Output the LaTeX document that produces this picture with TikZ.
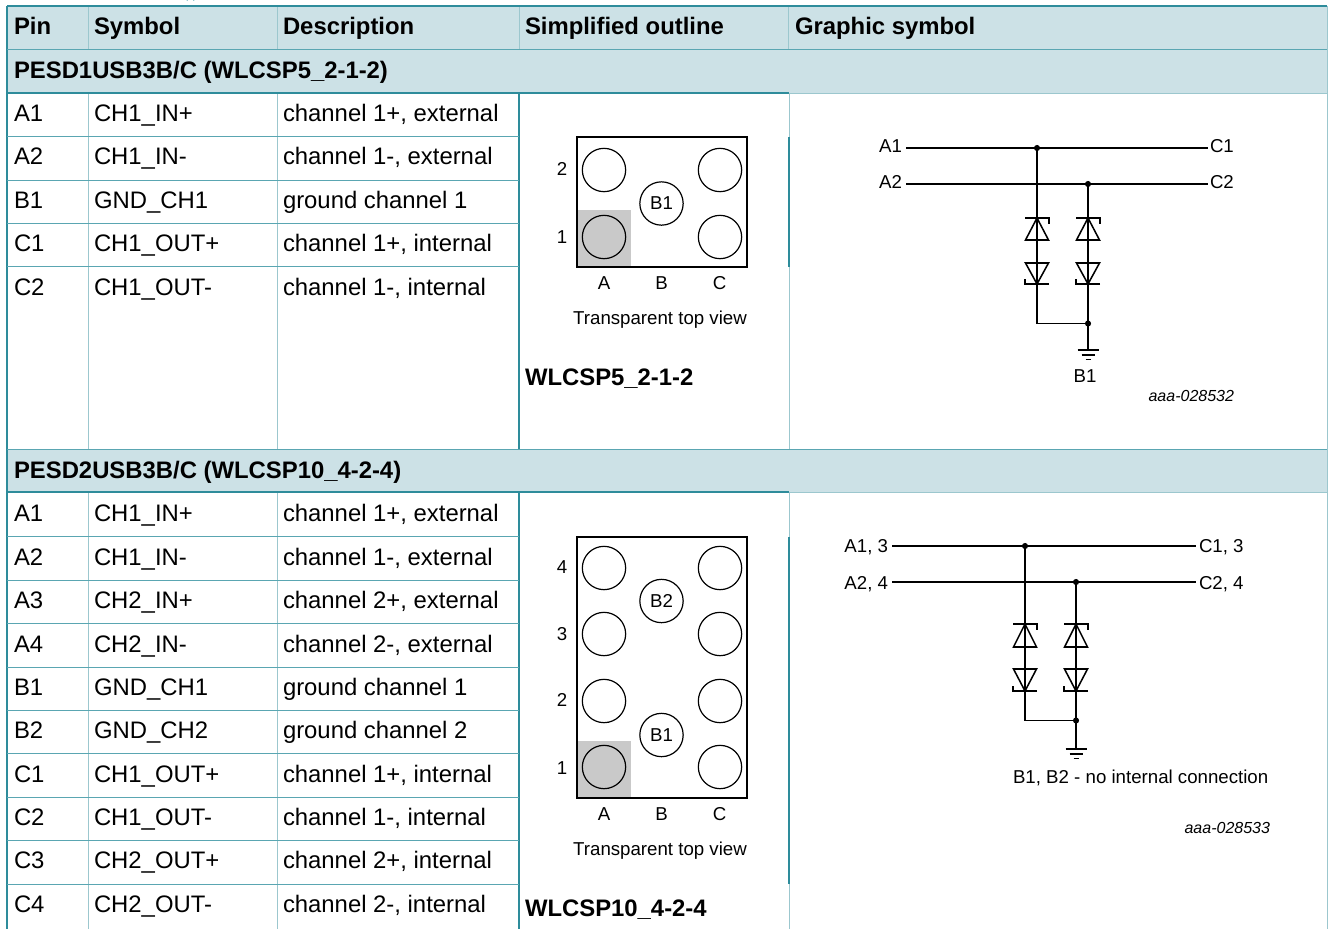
\documentclass[tikz,border=0pt]{standalone}
\usepackage{fontspec}
\setmainfont{Liberation Sans}
\newfontface\codefont{Liberation Sans Italic}
\definecolor{hdr}{HTML}{CCE1E6}
\definecolor{teal1}{HTML}{5AA6B2}
\definecolor{teal2}{HTML}{9CC7CE}
\definecolor{teal3}{HTML}{0F7F91}
\definecolor{teal4}{HTML}{2E8C9B}
\definecolor{greyfill}{HTML}{C9C9C9}
\tikzset{
  cell/.style={anchor=base west,inner sep=0pt,outer sep=0pt,font=\fontsize{17.9pt}{20pt}\selectfont},
  headcell/.style={cell,font=\fontsize{17.9pt}{20pt}\selectfont\bfseries},
  lab/.style={inner sep=0pt,outer sep=0pt,font=\fontsize{14pt}{16pt}\selectfont},
  labr/.style={lab,anchor=base east},
  labl/.style={lab,anchor=base west},
  labc/.style={lab,anchor=base},
  code/.style={inner sep=0pt,outer sep=0pt,anchor=base east,font=\codefont\fontsize{12pt}{14pt}\selectfont},
  gridh/.style={teal1,line width=0.75pt},
  gridv/.style={teal2,line width=0.75pt},
  gridd/.style={teal4,line width=0.85pt},
  wire/.style={black,line width=1.15pt},
  ball/.style={circle,draw=black,line width=0.9pt,minimum size=32.5pt,inner sep=0pt,outer sep=0pt,font=\fontsize{14pt}{16pt}\selectfont},
  pkg/.style={draw=black,line width=1.1pt},
  dot/.style={circle,fill=black,inner sep=0pt,minimum size=4.6pt,outer sep=0pt},
  zen/.style={black,line width=1.15pt},
  zenbar/.style={black,line width=1.7pt},
}
% zener pair on a vertical wire: x, top bar y, upper base y, lower top y, lower bar y
\newcommand{\zenpair}[5]{%
  \draw[zen] (#1-11.5,#3) -- (#1+11.5,#3) -- (#1,#2) -- cycle;
  \draw[zenbar] (#1-12,#2) -- (#1+12,#2) -- (#1+12,#2+5.5);
  \draw[zen] (#1-11.5,#4) -- (#1+11.5,#4) -- (#1,#5) -- cycle;
  \draw[zenbar] (#1+12,#5) -- (#1-12,#5) -- (#1-12,#5-5.5);
}
\newcommand{\gnd}[2]{%
  \draw[wire] (#1-10.5,#2) -- (#1+10.5,#2);
  \draw[wire] (#1-6.5,#2+5) -- (#1+6.5,#2+5);
  \draw[wire] (#1-2.5,#2+9.5) -- (#1+2.5,#2+9.5);
}
\begin{document}
\begin{tikzpicture}[x=0.75pt,y=-0.75pt]
\useasboundingbox (0,0) rectangle (1328,929);
\fill[white] (0,0) rectangle (1328,929);
% clipped descender of the line above the table
\draw[teal3,line width=1.5pt] (186.5,0) arc[start angle=180,end angle=360,x radius=4,y radius=2.2];
% header fills
\fill[hdr] (7,6) rectangle (1327,93);
\fill[hdr] (7,449) rectangle (1327,492);
% inner vertical rules
\foreach \x in {88,277,788}{
  \draw[gridv] (\x,6) -- (\x,49);
}
\foreach \x in {88,277}{
  \draw[gridv] (\x,93) -- (\x,449);
  \draw[gridv] (\x,492) -- (\x,929);
}
\draw[gridv] (519,6) -- (519,49);
\draw[gridd] (519,93) -- (519,449);
\draw[gridd] (519,492) -- (519,929);
\draw[gridv] (789,93) -- (789,449);
\draw[gridv] (789,492) -- (789,929);
\draw[gridd] (789,137) -- (789,267);
\draw[gridd] (789,537) -- (789,884);
% outer rules
\draw[gridd] (7,6) -- (7,929);
\draw[gridv] (1327,6) -- (1327,929);
\draw[gridd] (7,6) -- (1327,6);
\draw[gridh] (7,49) -- (1327,49);
\draw[gridd] (7,93) -- (789,93);
\draw[gridv] (789,93) -- (1327,93);
\draw[gridh] (7,449) -- (1327,449);
\draw[gridd] (7,492) -- (789,492);
\draw[gridv] (789,492) -- (1327,492);
% row rules
\foreach \y in {136,180,223,266,536,580,623,667,710,753,797,840,884}{
  \draw[gridh] (7,\y) -- (519,\y);
}
% headers
\node[headcell] (hp) at (14,34.5) {Pin};
\node[headcell] (hs) at (94,34.5) {Symbol};
\node[headcell] (hd) at (283,34.5) {Description};
\node[headcell] (ho) at (525,34.5) {Simplified outline};
\node[headcell] (hg) at (795,34.5) {Graphic symbol};
\node[headcell] (sec1) at (14,78.5) {PESD1USB3B/C (WLCSP5\_2-1-2)};
\node[headcell] (sec2) at (14,478) {PESD2USB3B/C (WLCSP10\_4-2-4)};
% section 1 rows
\foreach \n/\y/\a/\b/\c in {1/121.5/A1/CH1\_IN+/{channel 1+, external},
  2/164.5/A2/CH1\_IN-/{channel 1-, external},
  3/208.5/B1/GND\_CH1/ground channel 1,
  4/251.5/C1/CH1\_OUT+/{channel 1+, internal},
  5/295.5/C2/CH1\_OUT-/{channel 1-, internal}}{
  \node[cell] (ap\n) at (14,\y) {\a};
  \node[cell] (as\n) at (94,\y) {\b};
  \node[cell] (ad\n) at (283,\y) {\c};
}
% section 2 rows
\foreach \n/\y/\a/\b/\c in {1/521.5/A1/CH1\_IN+/{channel 1+, external},
  2/565.5/A2/CH1\_IN-/{channel 1-, external},
  3/608.5/A3/CH2\_IN+/{channel 2+, external},
  4/652.5/A4/CH2\_IN-/{channel 2-, external},
  5/695.5/B1/GND\_CH1/ground channel 1,
  6/738.5/B2/GND\_CH2/ground channel 2,
  7/782.5/C1/CH1\_OUT+/{channel 1+, internal},
  8/825.5/C2/CH1\_OUT-/{channel 1-, internal},
  9/868.5/C3/CH2\_OUT+/{channel 2+, internal},
  10/912.5/C4/CH2\_OUT-/{channel 2-, internal}}{
  \node[cell] (bp\n) at (14,\y) {\a};
  \node[cell] (bs\n) at (94,\y) {\b};
  \node[cell] (bd\n) at (283,\y) {\c};
}
% outline 1
\fill[greyfill] (577,210) rectangle (631,267);
\draw[pkg] (577,137) rectangle (747,267);
\node[ball] (o1a2) at (604,170) {};
\node[ball] (o1c2) at (720,170) {};
\node[ball] (o1b1) at (661.5,203.5) {B1};
\node[ball] (o1a1) at (604,237) {};
\node[ball] (o1c1) at (720,237) {};
\node[labc] (o1l2) at (562,175) {2};
\node[labc] (o1l1) at (562,243.5) {1};
\node[labc] (o1la) at (604,289.5) {A};
\node[labc] (o1lb) at (661.5,289.5) {B};
\node[labc] (o1lc) at (719.5,289.5) {C};
\node[labc] (o1t) at (660,324) {Transparent top view};
\node[headcell] (o1n) at (525,385.5) {WLCSP5\_2-1-2};
% outline 2
\fill[greyfill] (577,741) rectangle (631,798);
\draw[pkg] (577,537) rectangle (747,798);
\foreach \n/\y in {4/568,3/634,2/701,1/767}{
  \node[ball] (o2a\n) at (604,\y) {};
  \node[ball] (o2c\n) at (720,\y) {};
}
\node[ball] (o2b2) at (661.5,601) {B2};
\node[ball] (o2b1) at (661.5,735) {B1};
\node[labc] (o2l4) at (562,573.5) {4};
\node[labc] (o2l3) at (562,640) {3};
\node[labc] (o2l2) at (562,706) {2};
\node[labc] (o2l1) at (562,774.5) {1};
\node[labc] (o2la) at (604,820.5) {A};
\node[labc] (o2lb) at (661.5,820.5) {B};
\node[labc] (o2lc) at (719.5,820.5) {C};
\node[labc] (o2t) at (660,855) {Transparent top view};
\node[headcell] (o2n) at (525,916) {WLCSP10\_4-2-4};
% graphic symbol 1
\coordinate (g1a1) at (906,148);
\coordinate (g1c1) at (1208,148);
\coordinate (g1a2) at (906,184);
\coordinate (g1c2) at (1208,184);
\coordinate (g1bl) at (1037,323.5);
\coordinate (g1g) at (1088,350);
\node[dot] (g1d1) at (1037,148) {};
\node[dot] (g1d2) at (1088,184) {};
\node[dot] (g1d3) at (1088,323.5) {};
\draw[wire] (g1a1) -- (g1c1);
\draw[wire] (g1a2) -- (g1c2);
\draw[wire] (g1d1.center) -- (g1bl) -- (g1d3.center);
\draw[wire] (g1d2.center) -- (g1g);
\zenpair{1037}{218}{240}{263}{284}
\zenpair{1088}{218}{240}{263}{284}
\gnd{1088}{350}
\node[labr] (g1la1) at (902,152) {A1};
\node[labr] (g1la2) at (902,188.5) {A2};
\node[labl] (g1lc1) at (1210,152) {C1};
\node[labl] (g1lc2) at (1210,188.5) {C2};
\node[labc] (g1lb) at (1085,382.5) {B1};
\node[code] (g1code) at (1234,401) {aaa-028532};
% graphic symbol 2
\coordinate (g2a1) at (892,546);
\coordinate (g2c1) at (1196,546);
\coordinate (g2a2) at (892,582);
\coordinate (g2c2) at (1196,582);
\coordinate (g2bl) at (1025,720.5);
\coordinate (g2g) at (1076,749);
\node[dot] (g2d1) at (1025,546) {};
\node[dot] (g2d2) at (1076,582) {};
\node[dot] (g2d3) at (1076,720.5) {};
\draw[wire] (g2a1) -- (g2c1);
\draw[wire] (g2a2) -- (g2c2);
\draw[wire] (g2d1.center) -- (g2bl) -- (g2d3.center);
\draw[wire] (g2d2.center) -- (g2g);
\zenpair{1025}{624}{647}{669}{691}
\zenpair{1076}{624}{647}{669}{691}
\gnd{1076}{749}
\node[labr] (g2la1) at (888,552) {A1, 3};
\node[labr] (g2la2) at (888,589) {A2, 4};
\node[labl] (g2lc1) at (1199,552) {C1, 3};
\node[labl] (g2lc2) at (1199,589) {C2, 4};
\node[labl] (g2note) at (1013,783) {B1, B2 - no internal connection};
\node[code] (g2code) at (1270,833) {aaa-028533};
\end{tikzpicture}
\end{document}
